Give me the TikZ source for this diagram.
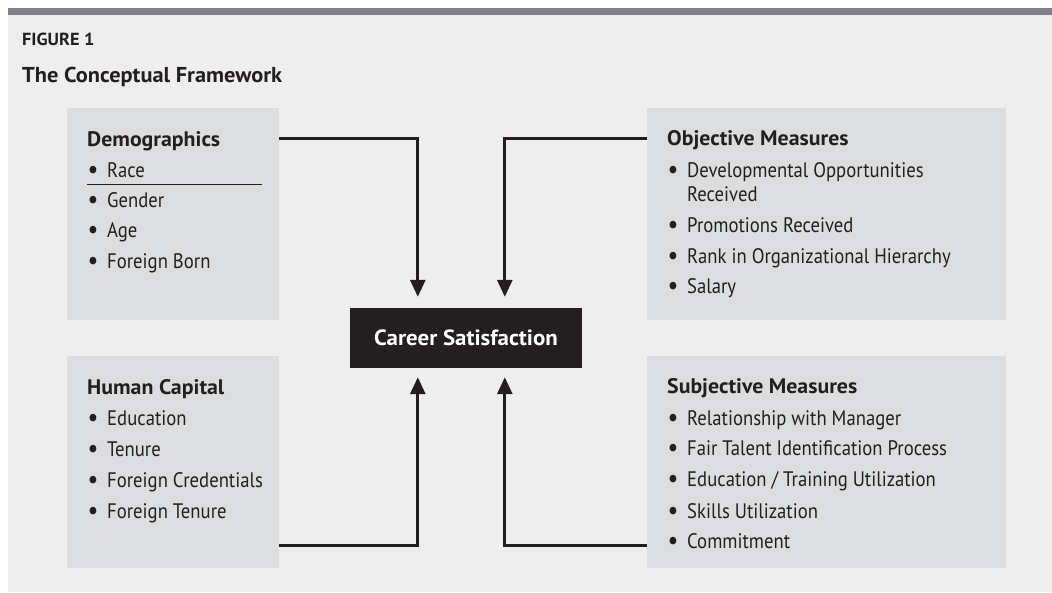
\documentclass[tikz,border=0pt]{standalone}
\usepackage{fontspec}
\setmainfont{PT Sans}[FakeStretch=0.89]
\newfontfamily\headfont{PT Sans}[FakeStretch=1.04]
\usetikzlibrary{arrows.meta}
\definecolor{pagebg}{HTML}{EEEEEE}
\definecolor{barcol}{HTML}{808285}
\definecolor{panelcol}{HTML}{DCDDDF}
\definecolor{inkcol}{HTML}{231F20}
\newcommand{\bul}{\hbox to 20pt{\kern0.5pt\raisebox{-1.5pt}{\fontsize{27}{27}\selectfont\textbullet}\hss}}
\tikzset{
  panel/.style={fill=panelcol, inner sep=0pt, minimum width=#1, minimum height=212pt},
  head/.style={anchor=base west, inner sep=0pt, text=inkcol, font=\fontsize{21}{24}\headfont\bfseries},
  item/.style={anchor=base west, inner sep=0pt, text=inkcol, font=\fontsize{21}{24}\selectfont},
  conn/.style={->, line width=3pt, draw=inkcol},
}
\begin{document}
\begin{tikzpicture}[x=1pt,y=-1pt,>={Triangle[length=17pt,width=15pt]}]
\useasboundingbox (0,0) rectangle (1052,592);
\fill[white] (0,0) rectangle (1052,592);
\fill[pagebg] (8,8) rectangle (1052,592);
\fill[barcol] (8,8) rectangle (1052,15);
% title
\node[head, font=\fontsize{17.5}{20}\headfont\bfseries] (fig) at (22,45) {FIGURE 1};
\node[head, font=\fontsize{21.5}{24}\headfont\bfseries] (title) at (22,82) {The Conceptual Framework};
% panels
\node[panel=212pt] (demo) at (173,214) {};
\node[panel=359pt] (obj) at (826.5,214) {};
\node[panel=212pt] (hum) at (173,462) {};
\node[panel=359pt] (subj) at (826.5,462) {};
\node[fill=inkcol, text=white, inner sep=0pt, minimum width=232pt, minimum height=60pt,
  font=\fontsize{22}{24}\headfont\bfseries] (sat) at (466,338) {Career Satisfaction\hspace{6pt}};
% demographics
\node[head] (demoh) at (87,146) {Demographics};
\node[item] (race) at (87,177) {\bul Race};
\node[item] (gender) at (87,207) {\bul Gender};
\node[item] (age) at (87,237) {\bul Age};
\node[item] (born) at (87,268) {\bul Foreign Born};
\draw[inkcol, line width=1pt] ([yshift=-7pt]race.base west) -- ++(175,0);
% objective measures
\node[head] (objh) at (667,145) {Objective Measures};
\node[item] (devop) at (667,177) {\bul Developmental Opportunities};
\node[item] (devrec) at (687,201) {Received};
\node[item] (promo) at (667,232) {\bul Promotions Received};
\node[item] (rank) at (667,263) {\bul Rank in Organizational Hierarchy};
\node[item] (salary) at (667,293) {\bul Salary};
% human capital
\node[head] (humh) at (87,394) {Human Capital};
\node[item] (educ) at (87,425) {\bul Education};
\node[item] (tenure) at (87,456) {\bul Tenure};
\node[item] (fcred) at (87,487) {\bul Foreign Credentials};
\node[item] (ften) at (87,518) {\bul Foreign Tenure};
% subjective measures
\node[head] (subjh) at (667,393) {Subjective Measures};
\node[item] (manager) at (667,425) {\bul Relationship with Manager};
\node[item] (talent) at (667,455) {\bul Fair Talent Identification Process};
\node[item] (train) at (667,486) {\bul Education / Training Utilization};
\node[item] (skills) at (667,518) {\bul Skills Utilization};
\node[item] (commit) at (667,548) {\bul Commitment};
% connectors
\draw[conn] ([yshift=-31pt]demo.north east) -| ([xshift=68pt,yshift=11pt]sat.north west);
\draw[conn] ([yshift=-31pt]obj.north west) -| ([xshift=155pt,yshift=11pt]sat.north west);
\draw[conn] ([yshift=23pt]hum.south east) -| ([xshift=68pt,yshift=-9pt]sat.south west);
\draw[conn] ([yshift=23pt]subj.south west) -| ([xshift=155pt,yshift=-9pt]sat.south west);
\end{tikzpicture}
\end{document}
